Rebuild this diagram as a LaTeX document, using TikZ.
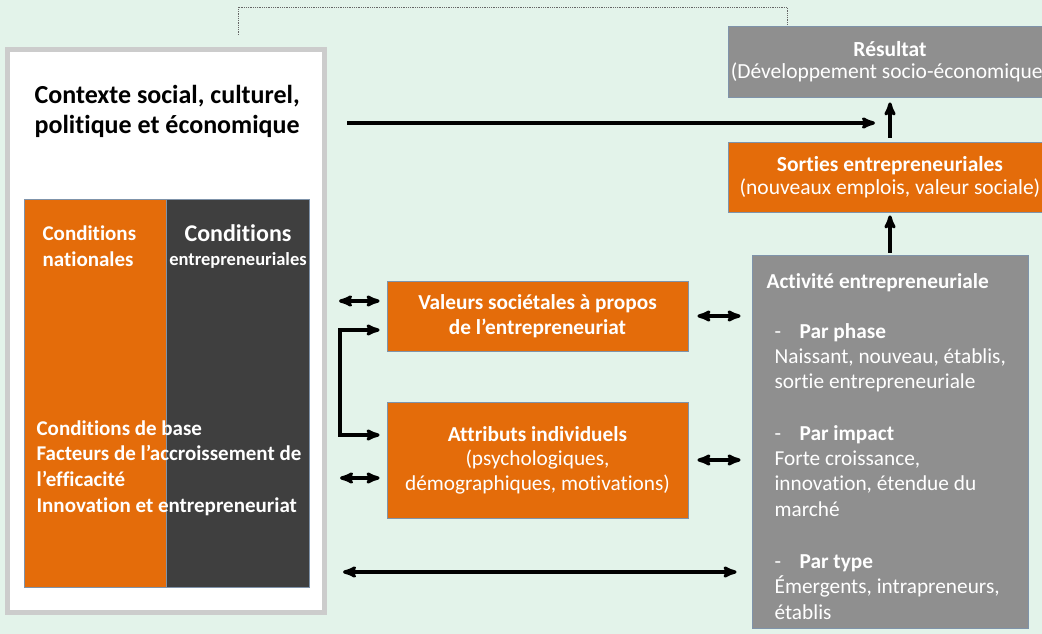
\documentclass[tikz,border=0pt]{standalone}
\usepackage{fontspec}
\setmainfont{Carlito}[Ligatures=NoCommon]
\usetikzlibrary{arrows}

\definecolor{mint}{HTML}{E3F3EA}
\definecolor{orng}{HTML}{E46C0A}
\definecolor{midgray}{HTML}{8F8F8F}
\definecolor{dkgray}{HTML}{3F3F3F}
\definecolor{edgecol}{HTML}{7F93AA}

\begin{document}
\begin{tikzpicture}[x=1pt,y=-1pt,>=stealth',line width=3.2pt,
  obox/.style={rectangle,draw=edgecol,line width=0.8pt,fill=orng,text=white,align=center,inner sep=0pt},
  gbox/.style={obox,fill=midgray},
  txt/.style={inner sep=0pt,align=left,anchor=base west,text=white}]

\useasboundingbox[fill=mint] (0,0) rectangle (1042,634);

% left block
\node[draw=gray!40,line width=5pt,fill=white,minimum width=317pt,minimum height=563pt,inner sep=0pt] (ctx) at (166,331) {};
\node[obox,minimum width=142pt,minimum height=388pt] (nat) at (95,393) {};
\node[obox,fill=dkgray,minimum width=143pt,minimum height=388pt] (ent) at (237.5,393) {};

% (base = baseline of the last line)
\node[txt,text=black,font=\bfseries\fontsize{26}{30}\selectfont] (ctxtxt) at (33,133) {Contexte social, culturel,\\politique et économique};
\node[txt,font=\bfseries\fontsize{21}{26}\selectfont] (nattxt) at (41,266) {Conditions\\nationales};
\node[txt,anchor=base,align=center,font=\bfseries\fontsize{24}{24}\selectfont] (enttxt) at (238,265) {Conditions\\{\fontsize{18.5}{18}\selectfont entrepreneuriales}};
\node[txt,font=\bfseries\fontsize{21}{25.6}\selectfont] (basetxt) at (35,512) {Conditions de base\\Facteurs de l’accroissement de\\l’efficacité\\Innovation et entrepreneuriat};

% middle boxes
\node[obox,minimum width=301pt,minimum height=70pt,font=\bfseries\fontsize{21.3}{25}\selectfont] (val) at (537.5,316) {Valeurs sociétales à propos\\de l’entrepreneuriat};
\node[obox,minimum width=301pt,minimum height=116pt,font=\fontsize{21.3}{24.5}\selectfont] (att) at (537.5,460) {\textbf{Attributs individuels}\\(psychologiques,\\démographiques, motivations)};

% right column
\node[gbox,minimum width=324pt,minimum height=71pt,font=\fontsize{21.5}{22}\selectfont] (res) at (890,61.5) {\textbf{Résultat}\\(Développement socio-économique)};
\node[obox,minimum width=324pt,minimum height=70pt,font=\fontsize{21.5}{23.5}\selectfont] (sor) at (890,177) {\textbf{Sorties entrepreneuriales}\\(nouveaux emplois, valeur sociale)};
\node[gbox,minimum width=276pt,minimum height=373pt] (act) at (890,441.5) {};
\node[txt,font=\fontsize{21.3}{25.3}\selectfont] (acttxt) at (765,619) {\textbf{Activité entrepreneuriale}\\[25pt]
  \hspace*{8pt}\makebox[25pt][l]{-}\textbf{Par phase}\\
  \hspace*{8pt}Naissant, nouveau, établis,\\
  \hspace*{8pt}sortie entrepreneuriale\\[26pt]
  \hspace*{8pt}\makebox[25pt][l]{-}\textbf{Par impact}\\
  \hspace*{8pt}Forte croissance,\\
  \hspace*{8pt}innovation, étendue du\\
  \hspace*{8pt}marché\\[27pt]
  \hspace*{8pt}\makebox[25pt][l]{-}\textbf{Par type}\\
  \hspace*{8pt}Émergents, intrapreneurs,\\
  \hspace*{8pt}établis};

% rows of the connectors
\coordinate (hr) at (875,123);
\coordinate (r1) at (0,301);
\coordinate (r2) at (0,330);
\coordinate (bk) at (340,380);
\coordinate (r5) at (0,435);
\coordinate (r3) at (0,478);
\coordinate (r4) at (0,572);
\coordinate (q1) at (0,316);
\coordinate (q2) at (0,460);
\coordinate (dl) at (238,35);
\coordinate (dr) at (787,7);

\draw[densely dotted,line width=0.8pt,gray!80!black] (dl) |- (dr) -- (res.north -| dr);

\path[->] (ctx.east |- hr) edge[shorten <=20pt] (hr)
          (sor) edge[shorten <=4pt,shorten >=5pt] (res)
          (act) edge[shorten <=2pt,shorten >=3pt] (sor);

\path[<->] (ctx.east |- r1) edge[shorten <=12pt,shorten >=7pt] (val.west |- r1)
           (ctx.east |- r3) edge[shorten <=13pt,shorten >=7pt] (att.west |- r3)
           (ctx.east |- r4) edge[shorten <=16pt,shorten >=15pt] (act.west |- r4)
           (val.east |- q1) edge[shorten <=9pt,shorten >=11pt] (act.west |- q1)
           (att.east |- q2) edge[shorten <=9pt,shorten >=11pt] (act.west |- q2);

\draw[<->,shorten <=7pt,shorten >=7pt] (val.west |- r2) -| (bk) |- (att.west |- r5);

\end{tikzpicture}
\end{document}
